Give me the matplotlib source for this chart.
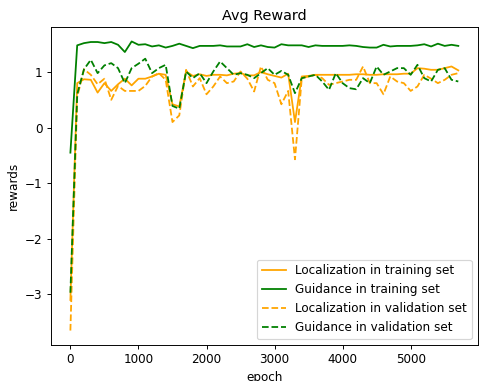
import numpy as np
import matplotlib
matplotlib.use('Agg')
import matplotlib.pyplot as plt

# epochs every 100 steps
epochs = list(range(0, 5800, 100))

loc_train = [-3.10, 0.80, 0.87, 0.86, 0.63, 0.80, 0.66, 0.78, 0.88, 0.76,
             0.88, 0.88, 0.92, 0.97, 0.95, 0.42, 0.38, 1.01, 0.93, 0.96,
             0.93, 0.95, 0.95, 0.94, 0.97, 0.98, 0.94, 0.94, 1.00, 0.96,
             0.93, 0.90, 0.97, 0.10, 0.92, 0.93, 0.95, 0.95, 0.95, 0.95,
             0.95, 0.95, 0.96, 0.96, 0.95, 0.95, 0.96, 0.96, 0.96, 0.97,
             0.97, 1.07, 1.06, 1.04, 1.04, 1.07, 1.10, 1.03]

guid_train = [-0.45, 1.48, 1.52, 1.54, 1.54, 1.52, 1.54, 1.49, 1.36, 1.55,
              1.49, 1.50, 1.46, 1.48, 1.44, 1.47, 1.51, 1.47, 1.43, 1.47,
              1.47, 1.47, 1.48, 1.46, 1.46, 1.46, 1.50, 1.45, 1.48, 1.45,
              1.44, 1.50, 1.48, 1.48, 1.48, 1.45, 1.48, 1.47, 1.47, 1.47,
              1.47, 1.48, 1.47, 1.45, 1.44, 1.44, 1.49, 1.46, 1.47, 1.47,
              1.47, 1.48, 1.50, 1.46, 1.51, 1.47, 1.49, 1.47]

loc_val = [-3.65, 0.55, 1.05, 0.95, 0.78, 0.88, 0.50, 0.75, 0.66, 0.66,
           0.66, 0.75, 0.92, 0.98, 0.86, 0.10, 0.22, 1.04, 0.74, 0.89,
           0.60, 0.74, 0.92, 0.80, 0.83, 1.01, 0.88, 0.65, 1.10, 0.86,
           0.80, 0.42, 0.66, -0.57, 0.89, 0.92, 0.95, 0.89, 0.77, 0.80,
           0.83, 0.86, 0.86, 1.10, 0.80, 0.80, 0.60, 0.92, 0.83, 0.80,
           0.66, 0.74, 0.95, 0.88, 0.80, 0.86, 0.95, 0.98]

guid_val = [-2.97, 0.60, 1.05, 1.22, 0.98, 1.12, 1.16, 1.07, 0.80, 1.07,
            1.15, 1.24, 0.98, 1.07, 1.13, 0.39, 0.34, 1.01, 0.89, 0.98,
            0.80, 1.01, 1.19, 1.07, 0.95, 0.98, 0.95, 0.89, 0.98, 1.07,
            0.95, 1.02, 0.95, 0.62, 0.89, 0.92, 0.95, 0.83, 0.68, 0.98,
            0.80, 0.71, 0.69, 0.89, 0.80, 1.10, 0.95, 1.01, 1.07, 1.07,
            0.95, 1.13, 0.89, 0.83, 1.04, 1.07, 0.86, 0.83]

# reference looks rendered at ~86 dpi
DPI = 86
fig = plt.figure(figsize=(481/DPI, 381/DPI), dpi=DPI)
ax = fig.add_axes([51/481, 36/381, 426.7/481, 318/381])

ax.plot(epochs, loc_train, color='orange', label='Localization in training set')
ax.plot(epochs, guid_train, color='green', label='Guidance in training set')
ax.plot(epochs, loc_val, color='orange', linestyle='--', label='Localization in validation set')
ax.plot(epochs, guid_val, color='green', linestyle='--', label='Guidance in validation set')

ax.set_title('Avg Reward')
ax.set_xlabel('epoch')
ax.set_ylabel('rewards')
ax.legend(loc='lower right')

fig.savefig('out.png', dpi=DPI)
